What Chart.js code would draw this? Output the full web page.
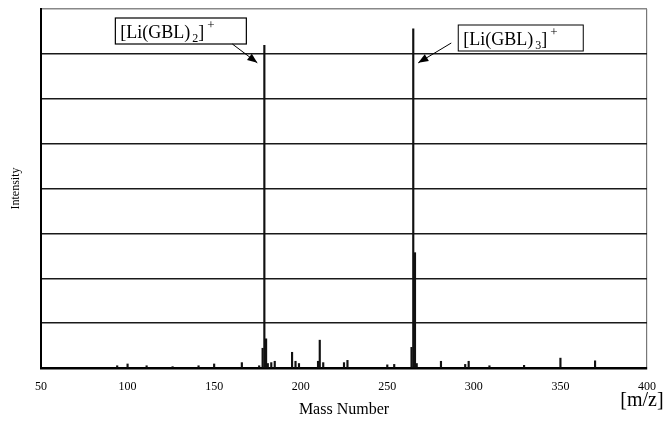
<!DOCTYPE html>
<html>
<head>
<meta charset="utf-8">
<script src="https://cdn.jsdelivr.net/npm/chart.js@4/dist/chart.umd.min.js"></script>
<style>
  html, body { margin: 0; padding: 0; background: #fff; }
  #wrap { width: 665px; height: 425px; position: relative; }
</style>
</head>
<body>
<div id="wrap"><canvas id="grafico" width="665" height="425"></canvas></div>
<script>
// m/z das linhas do espectro
const massNumbers = [94, 100, 111, 126, 141, 150, 166, 176, 178, 179, 180, 181, 183, 185,
    195, 197, 199, 210, 211, 213, 225, 227, 250, 254, 264, 265, 266, 267, 281, 295, 297,
    309, 329, 350, 370];
// intensidade (escala relativa, 8 divisoes)
const intensities = [0.05, 0.09, 0.05, 0.03, 0.05, 0.09, 0.12, 0.05, 0.44, 7.19, 0.65, 0.10, 0.12, 0.15,
    0.35, 0.15, 0.10, 0.15, 0.62, 0.12, 0.12, 0.17, 0.07, 0.08, 0.46, 7.56, 2.57, 0.10, 0.15, 0.08, 0.15,
    0.05, 0.06, 0.22, 0.16];
const xTicks = [50, 100, 150, 200, 250, 300, 350, 400];
const peakLabels = [
    { mz: 179, n: '2' },
    { mz: 265, n: '3' }
];

const serif = '"Liberation Serif", "DejaVu Serif", serif';

function desenharRotulo(ctx, x, y, n) {
    // [Li(GBL)n]+
    ctx.fillStyle = '#000';
    ctx.textBaseline = 'alphabetic';
    ctx.textAlign = 'left';
    ctx.font = '18px ' + serif;
    var t1 = '[Li(GBL)';
    ctx.fillText(t1, x, y);
    var w = ctx.measureText(t1).width + 2;
    ctx.font = '12px ' + serif;
    ctx.fillText(n, x + w, y + 4);
    w += ctx.measureText(n).width;
    ctx.font = '18px ' + serif;
    ctx.fillText(']', x + w, y);
    w += ctx.measureText(']').width + 3;
    ctx.font = '13px ' + serif;
    ctx.fillText('+', x + w, y - 9);
}

function seta(ctx, x0, y0, x1, y1) {
    ctx.strokeStyle = '#000';
    ctx.fillStyle = '#000';
    ctx.lineWidth = 1;
    ctx.beginPath();
    ctx.moveTo(x0, y0);
    ctx.lineTo(x1, y1);
    ctx.stroke();
    var a = Math.atan2(y1 - y0, x1 - x0);
    var L = 10, W = 4;
    ctx.beginPath();
    ctx.moveTo(x1, y1);
    ctx.lineTo(x1 - L * Math.cos(a) + W * Math.sin(a), y1 - L * Math.sin(a) - W * Math.cos(a));
    ctx.lineTo(x1 - L * Math.cos(a) - W * Math.sin(a), y1 - L * Math.sin(a) + W * Math.cos(a));
    ctx.closePath();
    ctx.fill();
}

const anotacoes = {
    id: 'anotacoes',
    afterDraw(chart) {
        const ctx = chart.ctx;
        const xs = chart.scales.x, ys = chart.scales.y;
        const area = chart.chartArea;
        ctx.save();

        // rotulo 1
        var p1 = xs.getPixelForValue(peakLabels[0].mz);
        var yTip = ys.getPixelForValue(6.8);
        ctx.fillStyle = '#fff';
        ctx.fillRect(p1 - 149, 18, 131, 26);
        ctx.strokeStyle = '#000';
        ctx.lineWidth = 1.2;
        ctx.strokeRect(p1 - 149, 18, 131, 26);
        desenharRotulo(ctx, p1 - 144, 38, peakLabels[0].n);
        seta(ctx, p1 - 32, 44, p1 - 7, yTip);

        // rotulo 2
        var p2 = xs.getPixelForValue(peakLabels[1].mz);
        ctx.fillStyle = '#fff';
        ctx.fillRect(p2 + 45, 25, 125, 26);
        ctx.strokeStyle = '#000';
        ctx.strokeRect(p2 + 45, 25, 125, 26);
        desenharRotulo(ctx, p2 + 50, 45, peakLabels[1].n);
        seta(ctx, p2 + 38, 43, p2 + 5, yTip);

        // titulos
        ctx.fillStyle = '#000';
        ctx.textAlign = 'center';
        ctx.textBaseline = 'middle';
        ctx.font = '16px ' + serif;
        ctx.fillText('Mass Number', (area.left + area.right) / 2, 410);
        ctx.font = '20px ' + serif;
        ctx.fillText('[m/z]', 642, 401);
        ctx.save();
        ctx.translate(16, (area.top + area.bottom) / 2);
        ctx.rotate(-Math.PI / 2);
        ctx.font = '12px ' + serif;
        ctx.fillText('Intensity', 0, 0);
        ctx.restore();
        ctx.restore();
    }
};

new Chart(document.getElementById('grafico').getContext('2d'), {
    type: 'bar',
    data: {
        datasets: [{
            data: massNumbers.map((m, i) => ({ x: m, y: intensities[i] })),
            backgroundColor: '#111',
            barThickness: 1.5,
            borderWidth: 0
        }]
    },
    options: {
        responsive: false,
        animation: false,
        devicePixelRatio: 1,
        layout: { padding: { left: 0, top: 9, right: 18, bottom: 0 } },
        plugins: { legend: { display: false }, tooltip: { enabled: false } },
        scales: {
            x: {
                type: 'linear',
                offset: false,
                min: 50,
                max: 400,
                afterBuildTicks: s => { s.ticks = xTicks.map(v => ({ value: v })); },
                afterFit: s => { s.height = 57; s.paddingLeft = 0; s.paddingRight = 0; },
                grid: {
                    offset: false,
                    drawTicks: false,
                    color: c => c.tick && c.tick.value === 400 ? '#777' : 'rgba(0,0,0,0)',
                    lineWidth: 1.2
                },
                border: { display: true, color: '#000', width: 2.5 },
                ticks: {
                    padding: 12,
                    color: '#000',
                    maxRotation: 0,
                    font: { family: serif, size: 12 }
                }
            },
            y: {
                min: 0,
                max: 8,
                afterFit: s => { s.width = 41; },
                grid: {
                    drawTicks: false,
                    color: c => c.tick && c.tick.value === 8 ? '#888' : '#1a1a1a',
                    lineWidth: 1.4
                },
                border: { display: true, color: '#000', width: 2 },
                ticks: { display: false, stepSize: 1 }
            }
        }
    },
    plugins: [anotacoes]
});
</script>
</body>
</html>
